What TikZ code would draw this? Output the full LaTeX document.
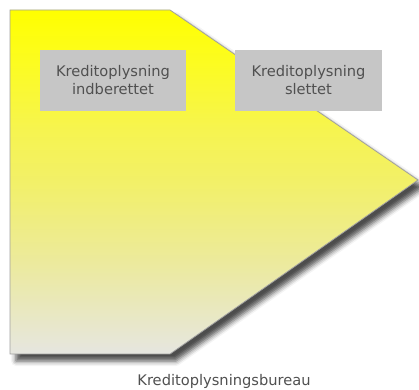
\documentclass[tikz,border=0pt]{standalone}
\usepackage{fontspec}
\setmainfont{DejaVu Sans}
\usetikzlibrary{shadows.blur}
\definecolor{boxgray}{HTML}{C6C6C6}
\definecolor{textgray}{HTML}{505050}
\definecolor{edgegray}{HTML}{A0A0A0}
\definecolor{shadeA}{HTML}{E6E6E0}
\definecolor{shadeB}{HTML}{ECEA9C}
\definecolor{shadeC}{HTML}{F2F068}
\definecolor{shadeD}{HTML}{F6F450}
\definecolor{shadeE}{HTML}{FCFC20}
\definecolor{shadeF}{HTML}{FFFF00}
% the visible part of a vertical shading is its middle band, 25bp to 75bp
\pgfdeclareverticalshading{bureaufill}{100bp}{
  color(0bp)=(shadeA);
  color(25bp)=(shadeA);
  color(38.5bp)=(shadeB);
  color(50bp)=(shadeC);
  color(57.5bp)=(shadeD);
  color(67.5bp)=(shadeE);
  color(75bp)=(shadeF);
  color(100bp)=(shadeF)}
\tikzset{
  label text/.style={text=textgray, font=\fontsize{14.7}{18}\selectfont, align=center},
  eventbox/.style={fill=boxgray, minimum width=146bp, minimum height=61bp, inner sep=0pt, label text},
  bureau/.style={draw=edgegray, line width=0.8bp, shading=bureaufill,
    blur shadow={shadow xshift=6bp, shadow yshift=-7bp, shadow blur radius=5bp, shadow opacity=70}}
}
\begin{document}
\begin{tikzpicture}[x=1bp, y=1bp]
  \useasboundingbox (0,0) rectangle (419,390);
  % pentagon arrow for the credit bureau
  \path[bureau] (10,380) -- (170,380) -- (418,210) -- (170,36) -- (10,36) -- cycle;
  % events
  \node[eventbox] (reported) at (113,309.5) {Kreditoplysning\\indberettet};
  \node[eventbox, minimum width=147bp] (deleted) at (308.5,309.5) {Kreditoplysning\\slettet};
  % caption
  \node[label text, inner sep=0pt] (caption) at (224,9) {Kreditoplysningsbureau};
\end{tikzpicture}
\end{document}
